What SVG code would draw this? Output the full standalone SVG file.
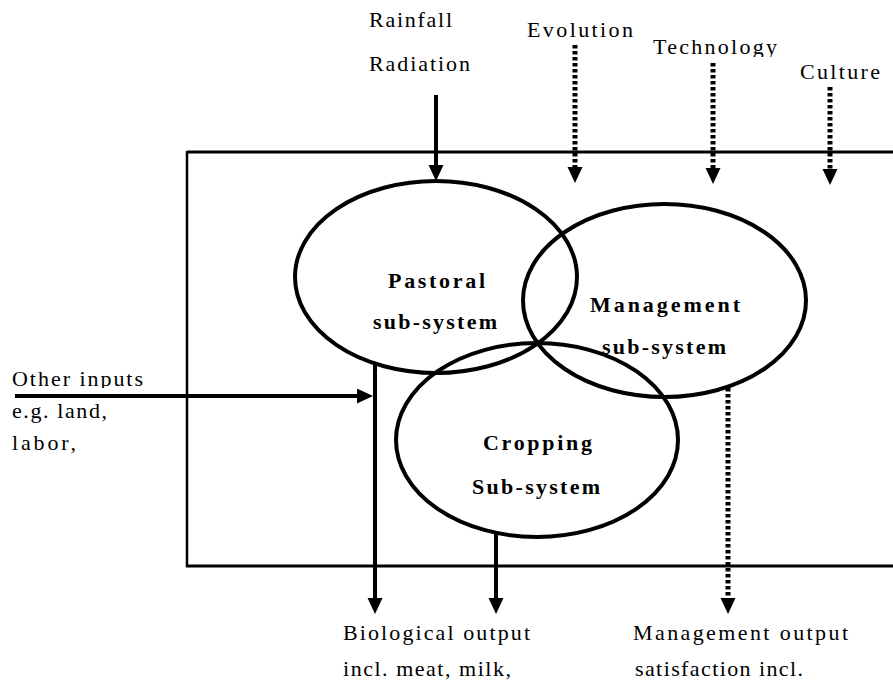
<svg xmlns="http://www.w3.org/2000/svg" width="893" height="682" viewBox="0 0 893 682">
<style>
text{font-family:"Liberation Serif","Times New Roman",serif;fill:#000}
.lbl{font-size:22px}
.node{font-size:22px;font-weight:bold}
.ell{fill:none;stroke:#000;stroke-width:4}
.frame{stroke:#000;fill:none}
.solid{stroke:#000;stroke-width:4;fill:none}
.dot{stroke:#000;stroke-width:5;fill:none;stroke-dasharray:3.5 2.5}
</style>
<defs>
<marker id="ah" markerUnits="userSpaceOnUse" markerWidth="18" markerHeight="16" refX="0" refY="7.5" orient="auto">
<path d="M0,0 L16,7.5 L0,15 z" fill="#000"/>
</marker>
<clipPath id="clipOther"><rect x="0" y="360" width="200" height="28"/></clipPath>
<clipPath id="clipTech"><rect x="640" y="30" width="160" height="27"/></clipPath>
</defs>
<g id="frame">
<line class="frame" x1="187" y1="152" x2="893" y2="152" stroke-width="3"/>
<line class="frame" x1="187" y1="151" x2="187" y2="567" stroke-width="2.5"/>
<line class="frame" x1="186" y1="566" x2="893" y2="566" stroke-width="3"/>
</g>
<g id="pastoral">
<ellipse class="ell" cx="436" cy="277" rx="141" ry="96"/>
<text class="node" x="388" y="288" textLength="97" lengthAdjust="spacing">Pastoral</text>
<text class="node" x="373" y="329" textLength="124" lengthAdjust="spacing">sub-system</text>
</g>
<g id="management">
<ellipse class="ell" cx="664.5" cy="300.5" rx="141.5" ry="96.5"/>
<text class="node" x="590" y="312" textLength="150" lengthAdjust="spacing">Management</text>
<text class="node" x="602" y="354" textLength="124" lengthAdjust="spacing">sub-system</text>
</g>
<g id="cropping">
<ellipse class="ell" cx="537" cy="440" rx="141" ry="97"/>
<text class="node" x="483" y="450" textLength="109" lengthAdjust="spacing">Cropping</text>
<text class="node" x="472" y="494" textLength="128" lengthAdjust="spacing">Sub-system</text>
</g>
<g id="labels">
<text class="lbl" x="369" y="27" textLength="83" lengthAdjust="spacing">Rainfall</text>
<text class="lbl" x="369" y="71" textLength="101" lengthAdjust="spacing">Radiation</text>
<text class="lbl" x="527" y="37" textLength="106" lengthAdjust="spacing">Evolution</text>
<text class="lbl" x="653" y="54" textLength="124" lengthAdjust="spacing" clip-path="url(#clipTech)">Technology</text>
<text class="lbl" x="800" y="79" textLength="80" lengthAdjust="spacing">Culture</text>
<text class="lbl" x="12" y="386" textLength="131" lengthAdjust="spacing" clip-path="url(#clipOther)">Other inputs</text>
<text class="lbl" x="12" y="418" textLength="95" lengthAdjust="spacing">e.g. land,</text>
<text class="lbl" x="12" y="450" textLength="64" lengthAdjust="spacing">labor,</text>
<text class="lbl" x="343" y="640" textLength="187" lengthAdjust="spacing">Biological output</text>
<text class="lbl" x="343" y="676" textLength="168" lengthAdjust="spacing">incl. meat, milk,</text>
<text class="lbl" x="633" y="640" textLength="215" lengthAdjust="spacing">Management output</text>
<text class="lbl" x="635" y="676" textLength="168" lengthAdjust="spacing">satisfaction incl.</text>
</g>
<g id="connectors">
<line class="solid" x1="436" y1="95" x2="436" y2="165" marker-end="url(#ah)"/>
<line class="dot" x1="575" y1="45" x2="575" y2="167" marker-end="url(#ah)"/>
<line class="dot" x1="713" y1="63" x2="713" y2="168" marker-end="url(#ah)"/>
<line class="dot" x1="830" y1="87" x2="830" y2="169" marker-end="url(#ah)"/>
<line class="solid" x1="15" y1="396" x2="357" y2="396" marker-end="url(#ah)"/>
<line class="solid" x1="375" y1="363" x2="375" y2="598" marker-end="url(#ah)"/>
<line class="solid" x1="496" y1="532" x2="496" y2="598" marker-end="url(#ah)"/>
<line class="dot" x1="728" y1="388" x2="728" y2="598" marker-end="url(#ah)"/>
</g>
</svg>
